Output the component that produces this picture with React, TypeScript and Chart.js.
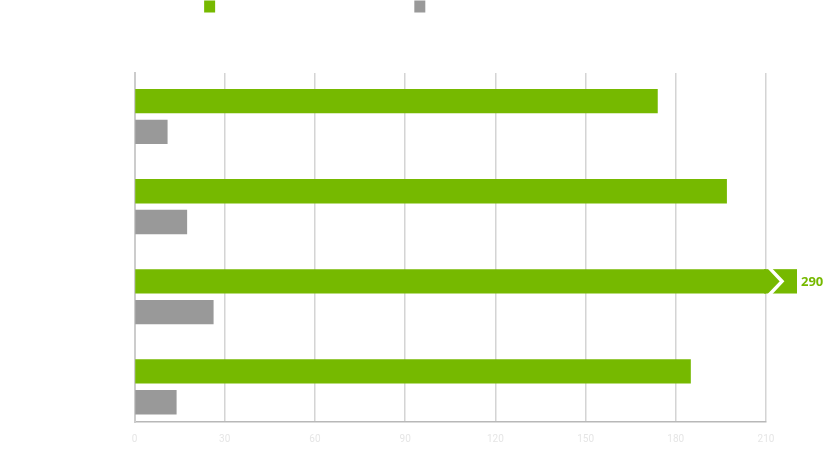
import React, { useEffect, useRef } from 'react';
import { Chart, registerables } from 'chart.js';

Chart.register(...registerables);

// ---- data ----
const categories = ['Category A', 'Category B', 'Category C', 'Category D'];
const seriesNames = ['Accelerated performance (GPU)', 'CPU-only performance'];
const greenValues = [174, 197, 290, 185];
const grayValues = [11, 17.5, 26.3, 14];
const xTicks = [0, 30, 60, 90, 120, 150, 180, 210];
const X_MIN = 0;
const X_MAX = 210;

// ---- styles / layout ----
const GREEN = '#76b900';
const GRAY = '#999999';
const W = 825;
const H = 476;
const PAD_TOP = -10;
const AREA_TOP = 73;
const AREA_LEFT = 134.5;
const AREA_RIGHT = 766;
const AREA_BOTTOM = 422;

const overflowPlugin = {
  id: 'overflowBars',
  afterDatasetsDraw(chart: any) {
    const xs = chart.scales.x;
    const ctx = chart.ctx;
    chart.data.datasets.forEach((ds: any, di: number) => {
      const meta = chart.getDatasetMeta(di);
      if (meta.hidden) return;
      meta.data.forEach((el: any, i: number) => {
        const raw = ds.data[i];
        const v = raw && typeof raw === 'object' ? raw.x : raw;
        if (v <= xs.max) return;
        const h = el.height;
        const top = el.y - h / 2;
        const bottom = el.y + h / 2;
        const cy = el.y;
        const r = xs.right;
        ctx.save();
        ctx.fillStyle = ds.backgroundColor;
        ctx.fillRect(r - 2, top, 33, h);
        ctx.strokeStyle = '#ffffff';
        ctx.lineWidth = 3.5;
        ctx.lineJoin = 'miter';
        ctx.beginPath();
        ctx.moveTo(r + 2.6, top - 2);
        ctx.lineTo(r + 16, cy);
        ctx.lineTo(r + 2.6, bottom + 2);
        ctx.stroke();
        ctx.fillStyle = ds.backgroundColor;
        ctx.font = 'bold 13px "Open Sans"';
        ctx.textBaseline = 'middle';
        ctx.textAlign = 'left';
        ctx.fillText(String(v), r + 35, cy + 0.5);
        ctx.restore();
      });
    });
  },
};

export default function App() {
  const ref = useRef<HTMLCanvasElement>(null);
  useEffect(() => {
    if (!ref.current) return;
    const chart = new Chart(ref.current, {
      type: 'bar',
      data: {
        datasets: [
          {
            label: seriesNames[0],
            data: greenValues.map((v, i) => ({ x: v, y: i })),
            backgroundColor: GREEN,
            borderWidth: 0,
          },
          {
            label: seriesNames[1],
            data: grayValues.map((v, i) => ({ x: v, y: i })),
            backgroundColor: GRAY,
            borderWidth: 0,
          },
        ],
      },
      options: {
        indexAxis: 'y',
        animation: false,
        responsive: true,
        maintainAspectRatio: false,
        categoryPercentage: 0.684,
        barPercentage: 0.79,
        layout: { padding: { top: PAD_TOP, left: 0, right: W - AREA_RIGHT, bottom: 0 } },
        plugins: {
          legend: {
            display: true,
            position: 'top',
            align: 'center',
            labels: {
              boxWidth: 11,
              boxHeight: 12,
              padding: 10,
              color: '#ffffff',
              font: { size: 12.8, family: 'Liberation Sans' },
            },
          },
          tooltip: { enabled: false },
        },
        scales: {
          x: {
            type: 'linear',
            position: 'bottom',
            min: X_MIN,
            max: X_MAX,
            afterBuildTicks: (s: any) => {
              s.ticks = xTicks.map((v) => ({ value: v }));
            },
            afterFit: (s: any) => {
              s.height = H - AREA_BOTTOM;
            },
            grid: { color: '#d4d4d4', lineWidth: 1.5, drawTicks: false },
            border: { color: '#b8b8b8', width: 1.5 },
            ticks: {
              padding: 11,
              color: '#e6e6e6',
              font: { size: 10, family: 'Roboto' },
            },
          },
          x2: {
            type: 'linear',
            position: 'top',
            display: true,
            grid: { display: false },
            border: { display: false },
            ticks: { display: false },
            afterFit: (s: any) => {
              const lg = s.chart.legend;
              const lh = lg ? lg.height : 32;
              s.height = AREA_TOP - (PAD_TOP + lh);
            },
          },
          y: {
            type: 'linear',
            reverse: true,
            offset: false,
            min: -0.483,
            max: 3.39,
            afterBuildTicks: (s: any) => {
              s.ticks = categories.map((_, i) => ({ value: i }));
            },
            afterFit: (s: any) => {
              s.width = AREA_LEFT;
            },
            grid: { display: false },
            border: { color: '#cccccc', width: 2 },
            ticks: {
              color: '#ffffff',
              font: { size: 12, family: 'Liberation Sans' },
              callback: (v: any) => categories[v] ?? '',
            },
          },
        },
      },
      plugins: [overflowPlugin],
    } as any);
    return () => chart.destroy();
  }, []);
  return (
    <div style={{ position: 'fixed', left: 0, top: 0, width: W, height: H, background: '#ffffff' }}>
      <canvas ref={ref} />
    </div>
  );
}
